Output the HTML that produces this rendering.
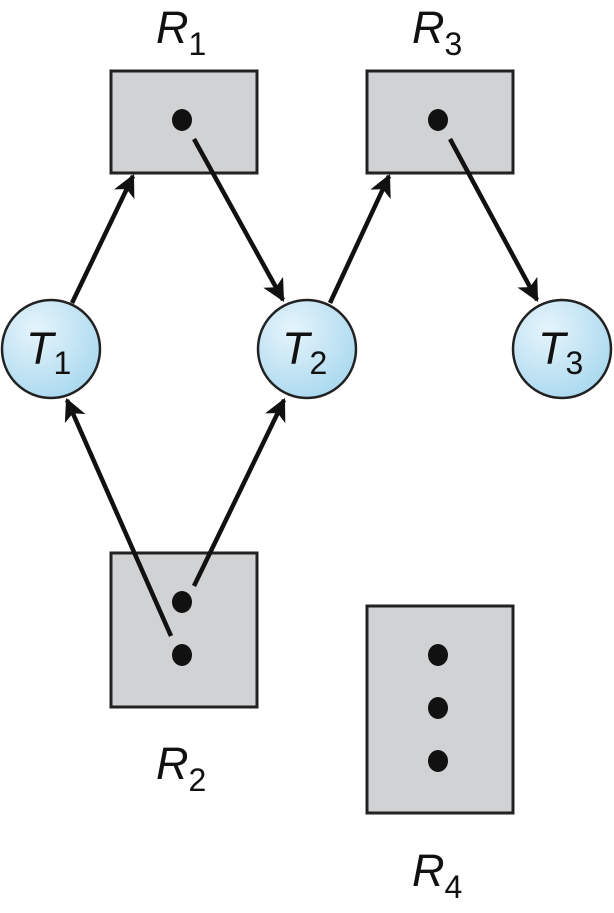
<!DOCTYPE html>
<html><head><style>body{margin:0;background:#fff}</style></head><body>
<svg width="614" height="908" viewBox="0 0 614 908" xmlns="http://www.w3.org/2000/svg">
<defs>
<marker id="a" viewBox="0 0 10 10" refX="9" refY="5" markerWidth="5" markerHeight="5" orient="auto" markerUnits="strokeWidth"><path d="M0,0 L10,5 L0,10 L2.5,5 z" fill="#111"/></marker>
<radialGradient id="g" cx="35%" cy="30%" r="75%"><stop offset="0" stop-color="#e6f4fb"/><stop offset="1" stop-color="#aad9ef"/></radialGradient>
</defs>
<g fill="#d1d2d4" stroke="#222" stroke-width="3">
<rect x="111" y="71" width="146" height="102"/>
<rect x="367" y="71" width="146" height="102"/>
<rect x="111" y="553" width="146" height="154"/>
<rect x="367" y="606" width="146" height="207"/>
</g>
<g fill="#111">
<ellipse cx="182" cy="120" rx="10" ry="11"/>
<ellipse cx="438" cy="120" rx="10" ry="11"/>
<ellipse cx="182" cy="602" rx="10" ry="11"/>
<ellipse cx="182" cy="655" rx="10" ry="11"/>
<ellipse cx="438" cy="655" rx="10" ry="11"/>
<ellipse cx="438" cy="708" rx="10" ry="11"/>
<ellipse cx="438" cy="761" rx="10" ry="11"/>
</g>
<g fill="url(#g)" stroke="#222" stroke-width="2.5">
<ellipse cx="51" cy="349" rx="49" ry="49"/>
<ellipse cx="307" cy="349" rx="49" ry="49"/>
<ellipse cx="562" cy="349" rx="49" ry="49"/>
</g>
<g stroke="#111" stroke-width="4.5" fill="none" marker-end="url(#a)">
<line x1="72" y1="303" x2="133" y2="176"/>
<line x1="194" y1="139" x2="283" y2="300"/>
<line x1="330" y1="303" x2="389" y2="176"/>
<line x1="450" y1="139" x2="537" y2="300"/>
<line x1="171" y1="636" x2="67" y2="400"/>
<line x1="194" y1="586" x2="284" y2="400"/>
</g>
<g font-family="Liberation Sans, sans-serif" font-style="italic" font-size="45" fill="#111">
<text x="156" y="43">R<tspan font-style="normal" font-size="32" dy="12">1</tspan></text>
<text x="412" y="43">R<tspan font-style="normal" font-size="32" dy="12">3</tspan></text>
<text x="156" y="779">R<tspan font-style="normal" font-size="32" dy="12">2</tspan></text>
<text x="412" y="886">R<tspan font-style="normal" font-size="32" dy="12">4</tspan></text>
<text x="26" y="364">T<tspan font-style="normal" font-size="32" dy="10">1</tspan></text>
<text x="282" y="364">T<tspan font-style="normal" font-size="32" dy="10">2</tspan></text>
<text x="538" y="364">T<tspan font-style="normal" font-size="32" dy="10">3</tspan></text>
</g>
</svg>
</body></html>
